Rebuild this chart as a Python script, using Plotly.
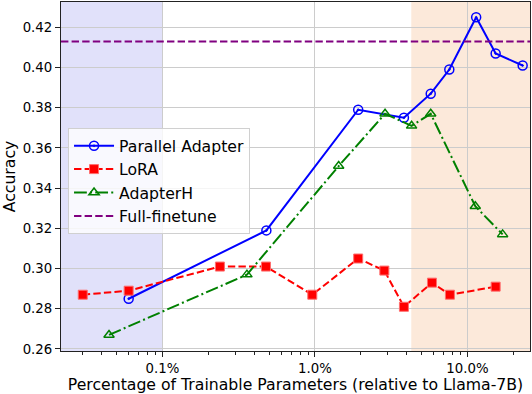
import plotly.graph_objects as go
import math

# Data (percent of trainable parameters, accuracy)
pa_x = [0.060, 0.48, 1.92, 3.83, 5.74, 7.6, 11.4, 15.3, 23.0]
pa_y = [0.285, 0.319, 0.379, 0.375, 0.387, 0.399, 0.425, 0.407, 0.401]

lora_x = [0.030, 0.060, 0.238, 0.477, 0.96, 1.92, 2.85, 3.83, 5.85, 7.67, 15.3]
lora_y = [0.287, 0.289, 0.301, 0.301, 0.287, 0.305, 0.299, 0.281, 0.293, 0.287, 0.291]

ah_x = [0.0446, 0.358, 1.43, 2.88, 4.3, 5.74, 11.25, 17.0]
ah_y = [0.267, 0.297, 0.351, 0.377, 0.371, 0.377, 0.331, 0.317]

full_finetune = 0.413

x_range = [0.0216, 25.7]
y_range = [0.259, 0.4326]
blue_region = [0.0216, 0.1]
orange_region = [4.28, 25.7]

x_tickvals = [0.1, 1, 10]
x_ticktext = ["0.1%", "1.0%", "10.0%"]
y_tickvals = [0.26, 0.28, 0.30, 0.32, 0.34, 0.36, 0.38, 0.40, 0.42]

minor_vals = [m * 10 ** e for e in range(-2, 2) for m in range(2, 10)]

DASH = "7.4px,3.2px"
DASHDOT = "12.8px,3.2px,2px,3.2px"

fig = go.Figure()

fig.add_shape(type="rect", xref="x", yref="paper", x0=blue_region[0], x1=blue_region[1],
              y0=0, y1=1, fillcolor="rgb(225,225,250)", line_width=0, layer="below")
fig.add_shape(type="rect", xref="x", yref="paper", x0=orange_region[0], x1=orange_region[1],
              y0=0, y1=1, fillcolor="rgb(252,233,218)", line_width=0, layer="below")

fig.add_trace(go.Scatter(x=pa_x, y=pa_y, name="Parallel Adapter", mode="lines+markers",
                         line=dict(color="blue", width=2),
                         marker=dict(symbol="circle-open-dot", size=9, color="blue",
                                     line=dict(width=1.5, color="blue"))))
fig.add_trace(go.Scatter(x=lora_x, y=lora_y, name="LoRA", mode="lines+markers",
                         line=dict(color="red", width=2, dash=DASH),
                         marker=dict(symbol="square", size=9, color="red",
                                     line=dict(width=1, color="rgb(255,110,110)"))))
fig.add_trace(go.Scatter(x=ah_x, y=ah_y, name="AdapterH", mode="lines+markers",
                         line=dict(color="green", width=2, dash=DASHDOT),
                         marker=dict(symbol="triangle-up-open", size=9, color="green",
                                     line=dict(width=1.5, color="green"))))
fig.add_trace(go.Scatter(x=x_range, y=[full_finetune, full_finetune], name="Full-finetune",
                         mode="lines", line=dict(color="purple", width=2, dash=DASH)))

axis_common = dict(showline=True, linecolor="#222", linewidth=1.2, mirror=True,
                   ticks="outside", ticklen=5, tickcolor="#222",
                   showgrid=True, gridcolor="#cccccc", gridwidth=1,
                   zeroline=False, automargin=False,
                   tickfont=dict(family="DejaVu Sans", size=13.3, color="black"))

fig.update_xaxes(type="log", range=[math.log10(x_range[0]), math.log10(x_range[1])],
                 tickvals=x_tickvals, ticktext=x_ticktext,
                 title=dict(text="Percentage of Trainable Parameters (relative to Llama-7B)",
                            font=dict(family="DejaVu Sans", size=15.7, color="black"), standoff=4),
                 minor=dict(tickvals=minor_vals, ticks="outside", ticklen=3, tickcolor="#222",
                            showgrid=False),
                 **axis_common)
fig.update_yaxes(range=y_range, tickvals=y_tickvals,
                 tickformat=".2f",
                 title=dict(text="Accuracy", font=dict(family="DejaVu Sans", size=15.7, color="black"),
                            standoff=4),
                 **axis_common)

fig.update_layout(
    width=532, height=394,
    margin=dict(l=61, r=2, t=2, b=43),
    plot_bgcolor="white", paper_bgcolor="white",
    font=dict(family="DejaVu Sans", color="black"),
    showlegend=True,
    legend=dict(x=0.015, y=0.639, xanchor="left", yanchor="top",
                bgcolor="rgba(255,255,255,0.8)", bordercolor="#d0d0d0", borderwidth=1,
                font=dict(family="DejaVu Sans", size=15.7, color="black"),
                tracegroupgap=0, itemwidth=40),
)

fig.write_html("out.html", config={"displayModeBar": False},
               post_script="document.body.style.margin='0px';document.body.style.overflow='hidden';")
